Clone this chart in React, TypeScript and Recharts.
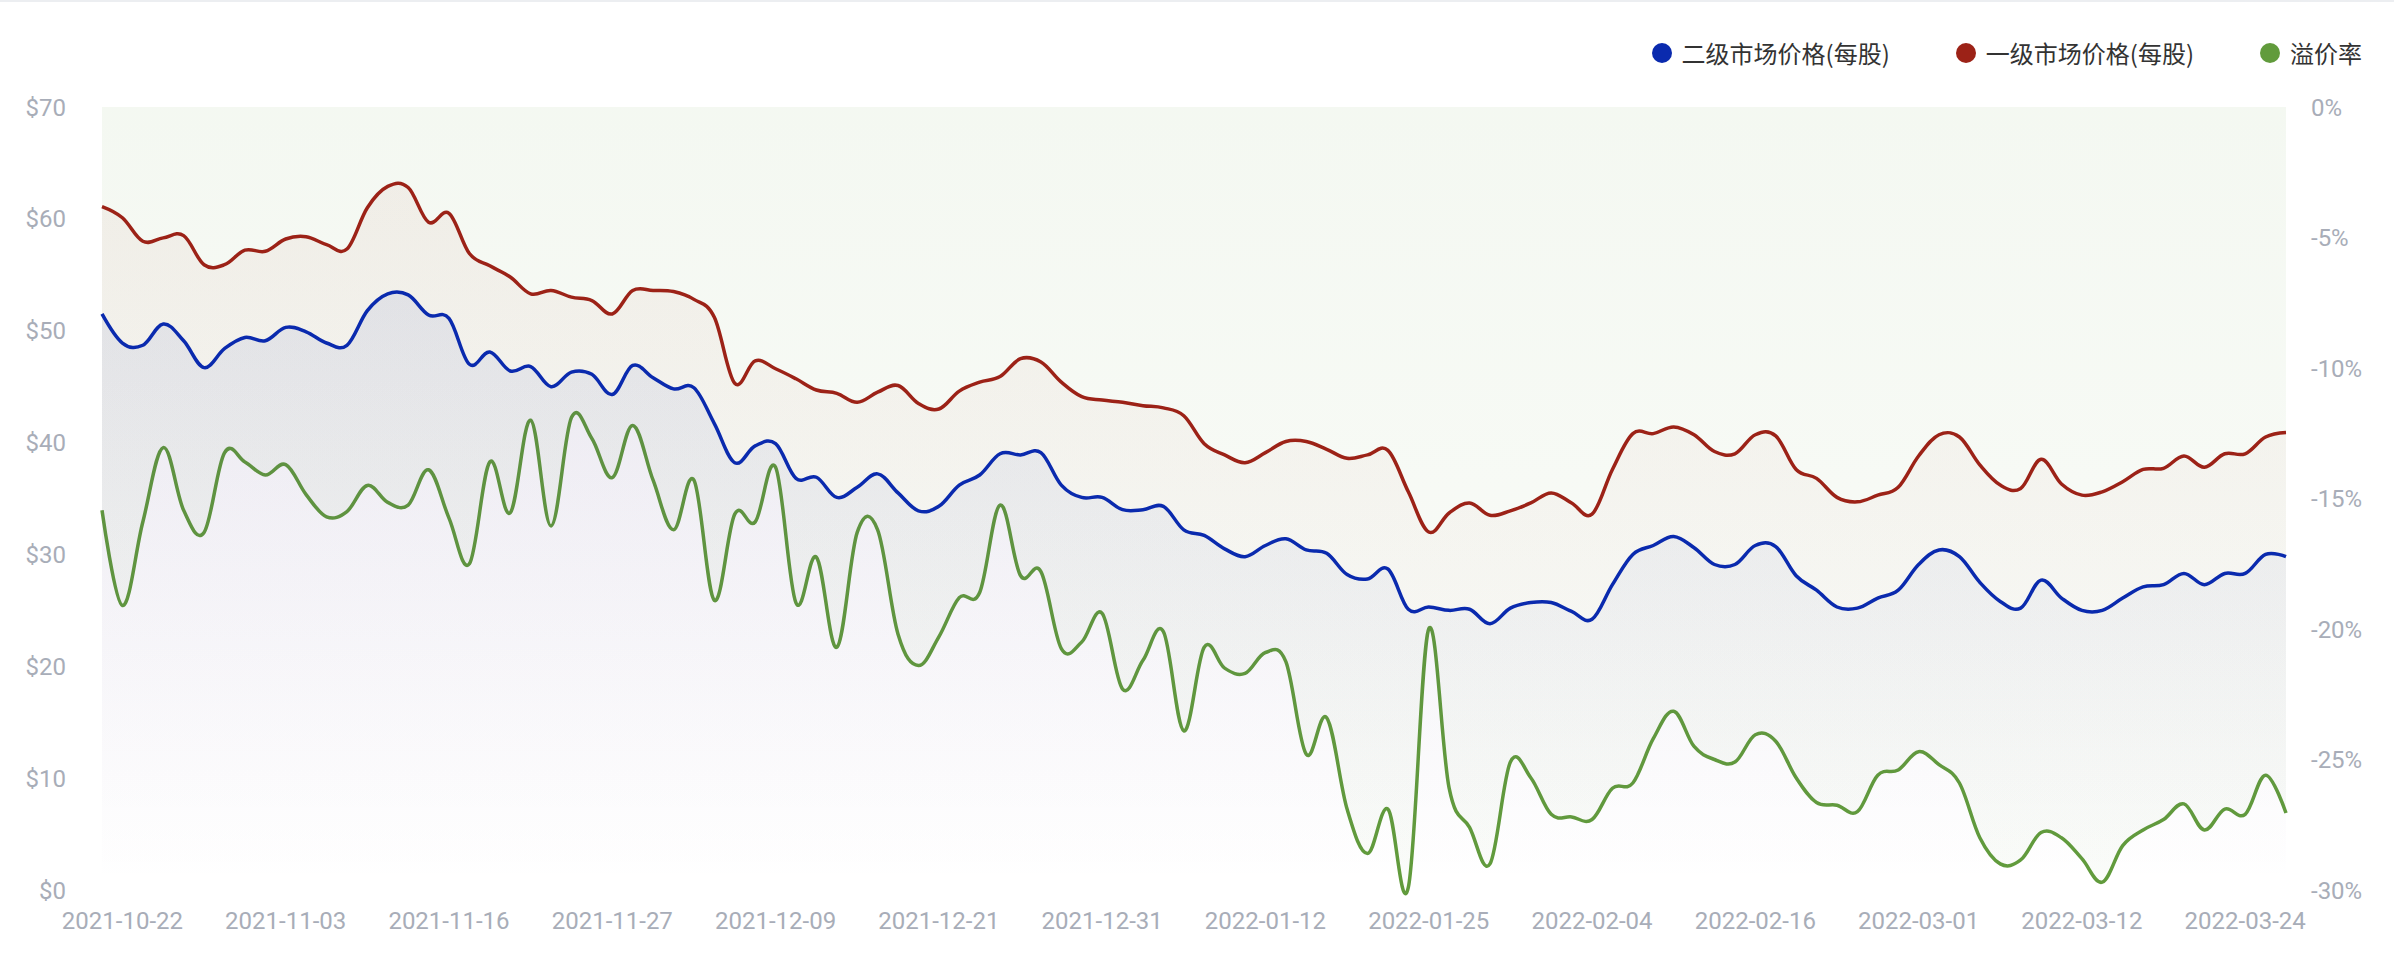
import { ComposedChart, Area, XAxis, YAxis } from "recharts";

// x-axis labels, one every 8 trading days starting at index 1
const tickDates = [
  "2021-10-22", "2021-11-03", "2021-11-16", "2021-11-27", "2021-12-09",
  "2021-12-21", "2021-12-31", "2022-01-12", "2022-01-25", "2022-02-04",
  "2022-02-16", "2022-03-01", "2022-03-12", "2022-03-24",
];

// 二级市场价格(每股)
const secondaryPrice = [
  51.5, 48.9, 48.7, 50.6, 49.1, 46.7, 48.4, 49.4, 49.1, 50.3,
  49.9, 48.9, 48.7, 51.8, 53.3, 53.2, 51.4, 51.1, 47.0, 48.1,
  46.4, 46.8, 45.0, 46.3, 46.1, 44.3, 46.9, 45.8, 44.8, 44.9,
  41.7, 38.2, 39.7, 39.9, 36.8, 36.9, 35.1, 36.0, 37.2, 35.5,
  33.9, 34.3, 36.2, 37.1, 39.0, 38.9, 39.1, 36.2, 35.1, 35.1,
  34.0, 34.0, 34.3, 32.2, 31.7, 30.5, 29.8, 30.8, 31.4, 30.4,
  30.1, 28.2, 27.8, 28.7, 25.1, 25.3, 25.0, 25.1, 23.8, 25.2,
  25.7, 25.7, 24.9, 24.2, 27.3, 30.0, 30.8, 31.6, 30.6, 29.1,
  29.1, 30.8, 30.7, 28.1, 26.8, 25.3, 25.2, 26.1, 26.8, 29.1,
  30.4, 29.8, 27.5, 25.8, 25.2, 27.7, 26.1, 25.0, 25.0, 26.1,
  27.1, 27.3, 28.3, 27.3, 28.3, 28.3, 30.0, 29.8,
];

// 一级市场价格(每股)
const primaryPrice = [
  61.1, 60.1, 58.0, 58.3, 58.5, 55.9, 55.9, 57.2, 57.1, 58.2,
  58.4, 57.7, 57.3, 61.0, 62.9, 62.8, 59.7, 60.5, 56.9, 55.8,
  54.8, 53.3, 53.6, 53.0, 52.7, 51.5, 53.6, 53.6, 53.5, 52.8,
  51.2, 45.3, 47.3, 46.6, 45.7, 44.7, 44.4, 43.6, 44.5, 45.1,
  43.5, 43.0, 44.6, 45.4, 45.9, 47.5, 47.2, 45.4, 44.1, 43.8,
  43.6, 43.3, 43.1, 42.4, 39.9, 38.9, 38.2, 39.1, 40.1, 40.1,
  39.4, 38.6, 38.9, 39.3, 35.6, 32.0, 33.7, 34.6, 33.5, 33.9,
  34.6, 35.5, 34.6, 33.6, 37.6, 40.8, 40.8, 41.4, 40.7, 39.2,
  39.0, 40.7, 40.6, 37.6, 36.8, 35.1, 34.7, 35.3, 36.0, 38.8,
  40.7, 40.5, 38.0, 36.2, 35.9, 38.5, 36.3, 35.3, 35.6, 36.5,
  37.6, 37.7, 38.8, 37.8, 39.0, 39.0, 40.5, 40.9,
];

// 溢价率 (%)
const premiumRate = [
  -15.45, -19.1, -15.9, -13.05, -15.45, -16.3, -13.25, -13.6, -14.1, -13.7,
  -14.85, -15.7, -15.5, -14.5, -15.15, -15.25, -13.9, -15.75, -17.5, -13.6,
  -15.55, -12.0, -16.05, -11.9, -12.7, -14.2, -12.2, -14.3, -16.2, -14.3,
  -18.9, -15.6, -15.9, -13.8, -19.0, -17.25, -20.7, -16.3, -16.2, -20.2,
  -21.4, -20.3, -18.8, -18.6, -15.25, -17.95, -17.8, -20.75, -20.5, -19.4,
  -22.3, -21.2, -20.1, -23.9, -20.7, -21.5, -21.7, -20.9, -21.25, -24.8,
  -23.4, -26.9, -28.6, -26.9, -29.9, -20.0, -26.1, -27.6, -29.0, -25.1,
  -25.7, -27.1, -27.2, -27.3, -26.1, -25.9, -24.2, -23.15, -24.5, -25.0,
  -25.1, -24.05, -24.3, -25.7, -26.65, -26.75, -27.0, -25.6, -25.4, -24.7,
  -25.2, -25.9, -28.0, -29.0, -28.85, -27.8, -28.0, -28.8, -29.7, -28.3,
  -27.7, -27.3, -26.7, -27.7, -26.9, -27.1, -25.6, -27.05,
];

const priceTicks = [0, 10, 20, 30, 40, 50, 60, 70];
const rateTicks = [-30, -25, -20, -15, -10, -5, 0];

const BLUE = "#0a2aae";
const RED = "#9c2217";
const GREEN = "#619b3c";
const AXIS_TEXT = "#a8adb8";

const legendItems = [
  { label: "二级市场价格(每股)", color: BLUE },
  { label: "一级市场价格(每股)", color: RED },
  { label: "溢价率", color: GREEN },
];

const data = secondaryPrice.map((v, i) => ({
  idx: i,
  secondary: v,
  primary: primaryPrice[i],
  premium: premiumRate[i],
}));

const xTicks = tickDates.map((_, k) => 1 + k * 8);

const tickStyle = { fill: AXIS_TEXT, fontSize: 24, fontFamily: "Roboto, sans-serif" };

// cardinal-style smoothing (closer to the rounded look of the original than monotone)
function smoothCurve(context: any) {
  const k = 0.18;
  let line = NaN;
  let pt = 0;
  let x0 = NaN, x1 = NaN, x2 = NaN, y0 = NaN, y1 = NaN, y2 = NaN;
  const seg = (x: number, y: number) => {
    context.bezierCurveTo(
      x1 + k * (x2 - x0), y1 + k * (y2 - y0),
      x2 + k * (x1 - x), y2 + k * (y1 - y),
      x2, y2
    );
  };
  return {
    areaStart() { line = 0; },
    areaEnd() { line = NaN; },
    lineStart() {
      x0 = x1 = x2 = y0 = y1 = y2 = NaN;
      pt = 0;
    },
    lineEnd() {
      if (pt === 2) context.lineTo(x2, y2);
      else if (pt === 3) seg(x1, y1);
      if (line || (line !== 0 && pt === 1)) context.closePath();
      line = 1 - line;
    },
    point(x: number, y: number) {
      x = +x; y = +y;
      if (pt === 0) {
        pt = 1;
        if (line) context.lineTo(x, y);
        else context.moveTo(x, y);
      } else if (pt === 1) {
        pt = 2;
        x1 = x; y1 = y;
      } else {
        pt = 3;
        seg(x, y);
      }
      x0 = x1; x1 = x2; x2 = x;
      y0 = y1; y1 = y2; y2 = y;
    },
  };
}

function LegendRow() {
  return (
    <div
      style={{
        position: "absolute",
        top: 38,
        right: 32,
        display: "flex",
        alignItems: "center",
        gap: 66,
        fontFamily: '"Noto Sans CJK SC", sans-serif',
        fontSize: 24,
        lineHeight: "30px",
        color: "#333",
      }}
    >
      {legendItems.map((item) => (
        <div key={item.label} style={{ display: "flex", alignItems: "center", gap: 10 }}>
          <span
            style={{ width: 20, height: 20, borderRadius: "50%", background: item.color, display: "inline-block" }}
          />
          <span>{item.label}</span>
        </div>
      ))}
    </div>
  );
}

export default function App() {
  return (
    <div style={{ position: "absolute", left: 0, top: 0, width: 2394, height: 966, background: "#fff" }}>
      <div style={{ position: "absolute", left: 0, top: 0, width: 2394, height: 2, background: "#eceef1" }} />
      <LegendRow />
      <ComposedChart
        width={2394}
        height={966}
        data={data}
        margin={{ top: 107, right: 0, bottom: 0, left: 0 }}
      >
        <defs>
          <linearGradient id="fillGreen" x1="0" y1="0" x2="0" y2="1">
            <stop offset="0%" stopColor={GREEN} stopOpacity={0.07} />
            <stop offset="100%" stopColor={GREEN} stopOpacity={0.03} />
          </linearGradient>
          <linearGradient id="fillRed" x1="0" y1="0" x2="0" y2="1">
            <stop offset="0%" stopColor={RED} stopOpacity={0.05} />
            <stop offset="100%" stopColor={RED} stopOpacity={0} />
          </linearGradient>
          <linearGradient id="fillBlue" x1="0" y1="0" x2="0" y2="1">
            <stop offset="0%" stopColor={BLUE} stopOpacity={0.07} />
            <stop offset="100%" stopColor={BLUE} stopOpacity={0} />
          </linearGradient>
        </defs>
        <XAxis
          dataKey="idx"
          type="number"
          domain={[0, secondaryPrice.length - 1]}
          ticks={xTicks}
          interval={0}
          tickFormatter={(v: number) => tickDates[(v - 1) / 8] ?? ""}
          tick={tickStyle}
          tickLine={false}
          axisLine={false}
          tickSize={0}
          tickMargin={22}
          height={76}
        />
        <YAxis
          yAxisId="price"
          orientation="left"
          domain={[0, 70]}
          ticks={priceTicks}
          tickFormatter={(v: number) => `$${v}`}
          tick={tickStyle}
          tickLine={false}
          axisLine={false}
          tickSize={0}
          tickMargin={36}
          width={102}
        />
        <YAxis
          yAxisId="rate"
          orientation="right"
          domain={[-30, 0]}
          ticks={rateTicks}
          tickFormatter={(v: number) => `${v}%`}
          tick={tickStyle}
          tickLine={false}
          axisLine={false}
          tickSize={0}
          tickMargin={25}
          width={108}
        />
        <Area
          yAxisId="rate"
          type={smoothCurve as any}
          dataKey="premium"
          baseValue={0}
          stroke={GREEN}
          strokeWidth={3.5}
          fill="url(#fillGreen)"
          fillOpacity={1}
          dot={false}
          activeDot={false}
          isAnimationActive={false}
        />
        <Area
          yAxisId="price"
          type={smoothCurve as any}
          dataKey="primary"
          stroke={RED}
          strokeWidth={3.5}
          fill="url(#fillRed)"
          fillOpacity={1}
          dot={false}
          activeDot={false}
          isAnimationActive={false}
        />
        <Area
          yAxisId="price"
          type={smoothCurve as any}
          dataKey="secondary"
          stroke={BLUE}
          strokeWidth={3.5}
          fill="url(#fillBlue)"
          fillOpacity={1}
          dot={false}
          activeDot={false}
          isAnimationActive={false}
        />
      </ComposedChart>
    </div>
  );
}
